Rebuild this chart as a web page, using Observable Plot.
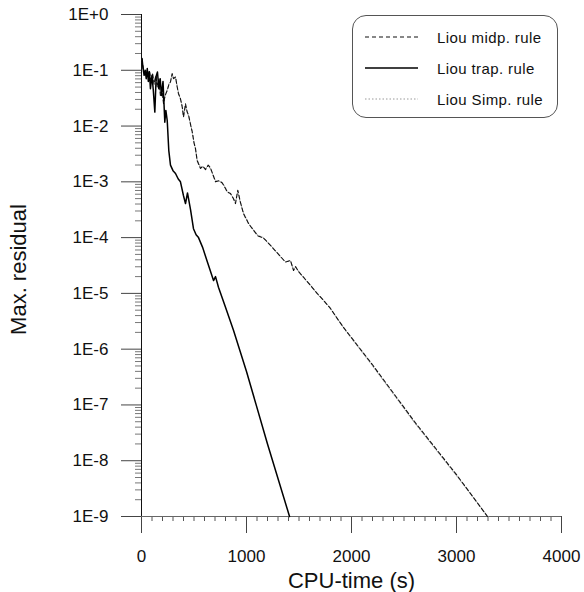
<!DOCTYPE html>
<html><head><meta charset="utf-8">
<script src="https://cdn.jsdelivr.net/npm/d3@7"></script>
<script src="https://cdn.jsdelivr.net/npm/@observablehq/plot@0.6"></script>
<style>
body{margin:0;background:#fff;}
#wrap{position:relative;width:584px;height:592px;font-family:"Liberation Sans",Arial,sans-serif;}
#legend{position:absolute;left:352px;top:15px;width:206px;height:103px;border:1px solid #555;border-radius:14px;box-sizing:border-box;}
.row{position:absolute;left:0;height:20px;display:flex;align-items:center;}
.row svg{margin-left:12px;}
.row span{margin-left:19px;font-size:15px;letter-spacing:0.4px;color:#111;}
</style>
</head><body><div id="wrap"></div>
<script>
// Series names
const seriesNames = ["Liou midp. rule", "Liou trap. rule", "Liou Simp. rule"];

// Liou trap. rule : CPU-time (s) and log10(max residual)
const trapTime = [5,15,25,35,45,55,65,75,85,100,112,127,140,152,165,178,190,205,222,232,245,260,276,300,324,350,371,400,419,438,467,495,520,543,581,630,686,705,733,800,876,1000,1200,1410];
const trapLogRes = [-0.79,-0.97,-1.09,-1.0,-1.15,-0.97,-1.2,-1.03,-1.33,-1.1,-1.35,-1.75,-1.1,-1.03,-1.33,-1.15,-1.45,-1.2,-1.93,-1.72,-1.9,-2.44,-2.7,-2.8,-2.85,-2.95,-3.0,-3.25,-3.39,-3.2,-3.5,-3.84,-3.95,-4.0,-4.17,-4.45,-4.77,-4.7,-4.89,-5.25,-5.66,-6.4,-7.7,-9.0];

// Liou midp. rule
const midpTime = [5,15,30,45,60,75,90,105,120,135,150,165,180,195,210,225,245,262,276,292,305,324,340,352,370,388,400,419,435,448,470,483,500,514,530,562,585,610,635,657,705,740,769,800,816,848,875,895,917,940,971,1020,1067,1110,1162,1200,1257,1320,1371,1419,1448,1467,1500,1543,1610,1673,1740,1800,1860,1924,2200,2600,3000,3295];
const midpLogRes = [-0.8,-0.95,-1.05,-1.0,-1.12,-1.0,-1.2,-1.05,-1.25,-1.1,-1.3,-1.15,-1.45,-1.35,-1.6,-1.45,-1.36,-1.25,-1.21,-1.06,-1.15,-1.12,-1.3,-1.42,-1.5,-1.66,-1.84,-1.6,-1.75,-1.8,-2.0,-2.1,-2.3,-2.4,-2.62,-2.76,-2.72,-2.78,-2.7,-2.75,-3.0,-2.98,-3.02,-3.12,-3.18,-3.21,-3.3,-3.39,-3.15,-3.35,-3.57,-3.75,-3.87,-3.97,-4.01,-4.08,-4.2,-4.33,-4.44,-4.41,-4.59,-4.52,-4.62,-4.71,-4.86,-5.0,-5.14,-5.27,-5.44,-5.61,-6.28,-7.3,-8.25,-9.0];

// Liou Simp. rule (nearly coincident with midp.)
const simpTime = [5,15,30,45,60,75,90,105,120,135,150,165,180,195,210,225,245,262,276,292,305,324,340,352,370,388,400,419,435,448,470,483,500,514,530,562,585,610,635,657,705,740,769,800,816,848,875,895,917,940,971,1020,1067,1110,1162,1200,1257,1320,1371,1419,1448,1467,1500,1543,1610,1673,1740,1800,1860,1924,2200,2600,3000,3300];
const simpLogRes = [-0.8,-0.96,-1.04,-1.02,-1.1,-1.02,-1.18,-1.07,-1.22,-1.12,-1.28,-1.17,-1.42,-1.37,-1.57,-1.47,-1.35,-1.24,-1.2,-1.07,-1.14,-1.13,-1.28,-1.4,-1.52,-1.64,-1.82,-1.62,-1.74,-1.82,-1.98,-2.12,-2.28,-2.42,-2.6,-2.74,-2.73,-2.76,-2.71,-2.77,-2.98,-2.99,-3.01,-3.1,-3.17,-3.22,-3.29,-3.37,-3.17,-3.36,-3.55,-3.74,-3.86,-3.96,-4.0,-4.09,-4.19,-4.34,-4.43,-4.42,-4.57,-4.53,-4.61,-4.72,-4.85,-5.01,-5.13,-5.28,-5.43,-5.62,-6.3,-7.32,-8.27,-9.0];

// Tick values
const xMajorTicks = [0, 1000, 2000, 3000, 4000];
const yMajorExp = [0,-1,-2,-3,-4,-5,-6,-7,-8,-9];
const yMinorMult = [2,3,4,5,6,7,8,9];

const toRows = (ts, ls, s) => ts.map((t, i) => ({t, r: Math.pow(10, ls[i]), s}));
const midp = toRows(midpTime, midpLogRes, seriesNames[0]);
const trap = toRows(trapTime, trapLogRes, seriesNames[1]);
const simp = toRows(simpTime, simpLogRes, seriesNames[2]);

const yMajor = yMajorExp.map(e => Math.pow(10, e));
const yMinor = yMajorExp.slice(1).flatMap(e => yMinorMult.map(m => m * Math.pow(10, e)));
const xMinor = d3.range(0, 4001, 100).filter(v => v % 1000 !== 0);
const fmtY = d => { const e = Math.round(Math.log10(d)); return "1E" + (e >= 0 ? "+" + e : String(e)); };

const plot = Plot.plot({
  width: 584, height: 592,
  marginLeft: 141, marginRight: 23, marginTop: 14, marginBottom: 76,
  style: {fontFamily: "'Liberation Sans', Arial, sans-serif", fontSize: "17px", background: "white", overflow: "visible", color: "#111"},
  x: {domain: [0, 4000]},
  y: {type: "log", domain: [1e-9, 1]},
  marks: [
    Plot.axisY(yMinor, {tickSize: 6, tickFormat: () => "", label: null, stroke: "#777"}),
    Plot.axisY(yMajor, {tickSize: 20, tickPadding: 13, tickFormat: fmtY, label: null, fontSize: 17, stroke: "#444"}),
    Plot.axisX(xMinor, {tickSize: 5, tickFormat: () => "", label: null, stroke: "#555"}),
    Plot.axisX(xMajorTicks, {tickSize: 17, tickPadding: 16, tickFormat: d => String(d), label: null, fontSize: 17, stroke: "#444"}),
    Plot.ruleX([0], {stroke: "#111"}),
    Plot.ruleY([1e-9], {stroke: "#666"}),
    Plot.line(simp, {x: "t", y: "r", stroke: "#aaa", strokeWidth: 1, strokeDasharray: "1.5,1.5"}),
    Plot.line(midp, {x: "t", y: "r", stroke: "#111", strokeWidth: 1.1, strokeDasharray: "4,2.5"}),
    Plot.line(trap, {x: "t", y: "r", stroke: "#000", strokeWidth: 1.5}),
    Plot.text(["Max. residual"], {frameAnchor: "left", dx: -123, dy: 4, rotate: -90, textAnchor: "middle", lineAnchor: "middle", fontSize: 22, fill: "#111"}),
    Plot.text(["CPU-time (s)"], {frameAnchor: "bottom", dy: 64, textAnchor: "middle", lineAnchor: "middle", fontSize: 22, fill: "#111"})
  ]
});
const wrap = document.getElementById("wrap");
wrap.appendChild(plot);

// Legend
const legend = document.createElement("div");
legend.id = "legend";
const styles = [
  {dash: "4,3", stroke: "#111", w: 1.1},
  {dash: null, stroke: "#000", w: 1.5},
  {dash: "1.5,2", stroke: "#999", w: 1}
];
const tops = [11, 42, 73];
seriesNames.forEach((name, i) => {
  const row = document.createElement("div");
  row.className = "row";
  row.style.top = tops[i] + "px";
  const st = styles[i];
  row.innerHTML = `<svg width="53" height="10"><line x1="0" y1="5" x2="53" y2="5" stroke="${st.stroke}" stroke-width="${st.w}" ${st.dash ? `stroke-dasharray="${st.dash}"` : ""}/></svg><span>${name}</span>`;
  legend.appendChild(row);
});
wrap.appendChild(legend);
</script>
</body></html>
